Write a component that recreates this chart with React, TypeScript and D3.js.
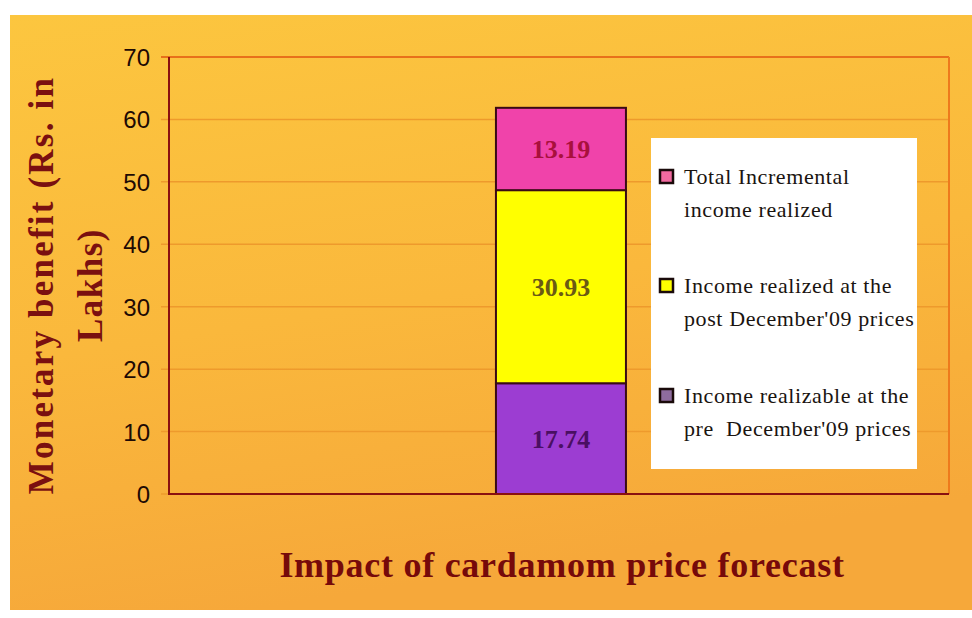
import React from "react";
import * as d3 from "d3";

const categories = ["Impact of cardamom price forecast"];
const seriesNames = [
  "Income realizable at the pre  December'09 prices",
  "Income realized at the post December'09 prices",
  "Total Incremental income realized",
];
const legendLines = [
  ["Income realizable at the", "pre  December'09 prices"],
  ["Income realized at the", "post December'09 prices"],
  ["Total Incremental", "income realized"],
];
const preValues = [17.74];
const postValues = [30.93];
const incrementalValues = [13.19];
const yTicks = [0, 10, 20, 30, 40, 50, 60, 70];
const yTitleLines = ["Monetary benefit (Rs. in", "Lakhs)"];
const xTitle = "Impact of cardamom price forecast";

const fills = ["#9C3DD2", "#FFFF00", "#F043AA"];
const labelColors = ["#4A0F63", "#6A5A14", "#A8103C"];
const markerFills = ["#8E6C9E", "#FFFF00", "#F26AA0"];

export default function App() {
  const W = 972, H = 618;
  const left = 169, right = 949, top = 57, bottom = 494;
  const y = d3.scaleLinear().domain([0, 70]).range([bottom, top]);
  const x = d3.scaleBand().domain(categories).range([left, right])
    .paddingInner(0).paddingOuter(2.5).align(0.503);

  const rows = categories.map((c, i) => ({
    cat: c,
    s0: preValues[i],
    s1: postValues[i],
    s2: incrementalValues[i],
  }));
  const stack = d3.stack<any>().keys(["s0", "s1", "s2"]);
  const layers = stack(rows);
  const values = [preValues, postValues, incrementalValues];

  const serif = "'Liberation Serif', 'DejaVu Serif', serif";
  const sans = "'Liberation Sans', Arial, sans-serif";

  const legendX = 651, legendY = 138, legendW = 266, legendH = 331;
  const itemBase = [403, 293, 184];

  return (
    <div style={{ position: "fixed", left: 0, top: 0 }}>
      <svg width={W} height={H} xmlns="http://www.w3.org/2000/svg" style={{ display: "block" }}>
        <defs>
          <linearGradient id="bg" x1="0" y1="0" x2="0.25" y2="1">
            <stop offset="0" stopColor="#FCC63F" />
            <stop offset="0.55" stopColor="#FAB83C" />
            <stop offset="1" stopColor="#F6A83A" />
          </linearGradient>
        </defs>
        <rect x={0} y={0} width={W} height={H} fill="#ffffff" />
        <rect x={10} y={15} width={W - 10} height={595} fill="url(#bg)" />

        {/* gridlines */}
        {yTicks.map((t) => (
          <line key={t} x1={left - 8} x2={right} y1={y(t)} y2={y(t)}
            stroke={t === 70 ? "#E8701A" : "#EE9A2C"} strokeWidth={t === 70 ? 2 : 1.5} />
        ))}
        {/* right border */}
        <line x1={right} x2={right} y1={top} y2={bottom} stroke="#EE7A1C" strokeWidth={2} />

        {/* bars */}
        {layers.map((layer, li) =>
          layer.map((d, i) => (
            <rect key={li + "-" + i}
              x={x(rows[i].cat)!}
              y={y(d[1])}
              width={x.bandwidth()}
              height={y(d[0]) - y(d[1])}
              fill={fills[li]}
              stroke="#3A0A14"
              strokeWidth={2} />
          ))
        )}
        {layers.map((layer, li) =>
          layer.map((d, i) => (
            <text key={"l" + li + "-" + i}
              x={x(rows[i].cat)! + x.bandwidth() / 2}
              y={(y(d[0]) + y(d[1])) / 2 + 9}
              textAnchor="middle"
              fontFamily={serif}
              fontWeight="bold"
              fontSize={26}
              fill={labelColors[li]}>
              {values[li][i].toFixed(2)}
            </text>
          ))
        )}

        {/* axes */}
        <line x1={left} x2={left} y1={top} y2={bottom + 1} stroke="#8A1010" strokeWidth={2} />
        <line x1={left - 1} x2={right} y1={bottom} y2={bottom} stroke="#8A1010" strokeWidth={2} />

        {yTicks.map((t) => (
          <text key={"t" + t} x={150} y={y(t) + 9} textAnchor="end"
            fontFamily={sans} fontSize={24} fill="#1E0A04">{t}</text>
        ))}

        {/* legend */}
        <rect x={legendX} y={legendY} width={legendW} height={legendH} fill="#FFFFFF" />
        {seriesNames.map((name, k) => (
          <g key={name}>
            <rect x={660} y={itemBase[k] - 14} width={13} height={13}
              fill={markerFills[k]} stroke="#1A0A0A" strokeWidth={2.5} />
            {legendLines[k].map((ln, j) => (
              <text key={j} x={684} y={itemBase[k] + j * 33}
                fontFamily={serif} fontSize={22} letterSpacing={0.6}
                style={{ whiteSpace: "pre" }} fill="#1A1410">{ln}</text>
            ))}
          </g>
        ))}

        {/* y title */}
        {yTitleLines.map((ln, j) => (
          <text key={ln} transform={`translate(${53 + j * 49},${285}) rotate(-90)`}
            textAnchor="middle" fontFamily={serif} fontWeight="bold" fontSize={35}
            letterSpacing={j === 0 ? 2.2 : 1.5} fill="#7A1010">{ln}</text>
        ))}

        {/* x title */}
        <text x={562} y={577} textAnchor="middle" fontFamily={serif} fontWeight="bold"
          fontSize={36} letterSpacing={0.73} fill="#760A0A">{xTitle}</text>
      </svg>
    </div>
  );
}
